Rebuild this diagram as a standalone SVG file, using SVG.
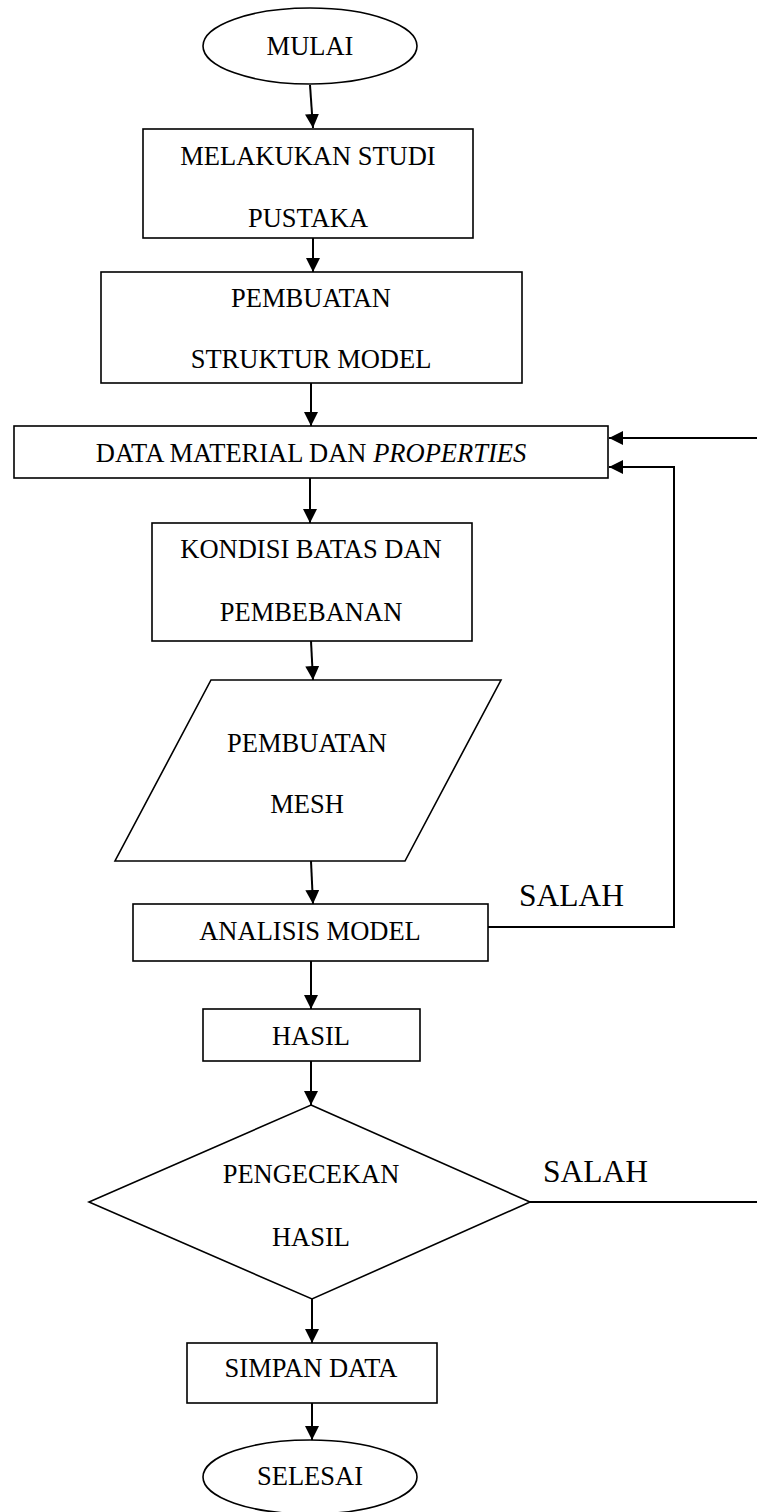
<svg xmlns="http://www.w3.org/2000/svg" width="757" height="1512" viewBox="0 0 757 1512">
<style>
.s{fill:#fff;stroke:#000;stroke-width:1.6}
.t{font-family:"Liberation Serif","Times New Roman",serif;font-size:26.5px;fill:#000;text-anchor:middle}
.lbl{font-family:"Liberation Serif","Times New Roman",serif;font-size:31.5px;fill:#000}
.c{fill:none;stroke:#000;stroke-width:2}
</style>
<defs>
<marker id="ah" viewBox="0 0 14 14" refX="14" refY="7" markerWidth="14" markerHeight="14" markerUnits="userSpaceOnUse" orient="auto">
<path d="M0,0 L14,7 L0,14 Z" fill="#000"/>
</marker>
</defs>
<rect width="757" height="1512" fill="#fff"/>
<g id="connectors">
<path class="c" d="M310,85 L313,128" marker-end="url(#ah)"/>
<path class="c" d="M313,238 L313,272" marker-end="url(#ah)"/>
<path class="c" d="M311,383 L311,426" marker-end="url(#ah)"/>
<path class="c" d="M310,478 L310,523" marker-end="url(#ah)"/>
<path class="c" d="M311,641 L313,680" marker-end="url(#ah)"/>
<path class="c" d="M311,861 L313,904" marker-end="url(#ah)"/>
<path class="c" d="M311,961 L311,1009" marker-end="url(#ah)"/>
<path class="c" d="M311,1061 L311,1105" marker-end="url(#ah)"/>
<path class="c" d="M312,1299 L312,1343" marker-end="url(#ah)"/>
<path class="c" d="M312,1403 L312,1440" marker-end="url(#ah)"/>
<path class="c" d="M757,438 L609,438" marker-end="url(#ah)"/>
<path class="c" d="M488,927 L674,927 L674,467 L609,467" marker-end="url(#ah)"/>
<path class="c" d="M530,1202 L757,1202"/>
<text class="lbl" x="519" y="906">SALAH</text>
<text class="lbl" x="543" y="1182">SALAH</text>
</g>
<g id="mulai">
<ellipse class="s" cx="310" cy="46" rx="107" ry="38"/>
<text class="t" x="310" y="55">MULAI</text>
</g>
<g id="studi">
<rect class="s" x="143" y="129" width="330" height="109"/>
<text class="t" x="308" y="165">MELAKUKAN STUDI</text>
<text class="t" x="308" y="227">PUSTAKA</text>
</g>
<g id="struktur">
<rect class="s" x="101" y="272" width="421" height="111"/>
<text class="t" x="311" y="307">PEMBUATAN</text>
<text class="t" x="311" y="368">STRUKTUR MODEL</text>
</g>
<g id="data">
<rect class="s" x="14" y="426" width="594" height="52"/>
<text class="t" x="311" y="462">DATA MATERIAL DAN <tspan font-style="italic">PROPERTIES</tspan></text>
</g>
<g id="kondisi">
<rect class="s" x="152" y="523" width="320" height="118"/>
<text class="t" x="311" y="558">KONDISI BATAS DAN</text>
<text class="t" x="311" y="621">PEMBEBANAN</text>
</g>
<g id="mesh">
<polygon class="s" points="211,680 501,680 405,861 115,861"/>
<text class="t" x="307" y="752">PEMBUATAN</text>
<text class="t" x="307" y="813">MESH</text>
</g>
<g id="analisis">
<rect class="s" x="133" y="904" width="355" height="57"/>
<text class="t" x="310" y="940">ANALISIS MODEL</text>
</g>
<g id="hasil">
<rect class="s" x="203" y="1009" width="217" height="52"/>
<text class="t" x="311" y="1045">HASIL</text>
</g>
<g id="pengecekan">
<polygon class="s" points="311,1105 530,1202 312,1299 89,1202"/>
<text class="t" x="311" y="1183">PENGECEKAN</text>
<text class="t" x="311" y="1246">HASIL</text>
</g>
<g id="simpan">
<rect class="s" x="187" y="1343" width="250" height="60"/>
<text class="t" x="311" y="1377">SIMPAN DATA</text>
</g>
<g id="selesai">
<ellipse class="s" cx="310" cy="1477" rx="107" ry="37"/>
<text class="t" x="310" y="1485">SELESAI</text>
</g>
</svg>
